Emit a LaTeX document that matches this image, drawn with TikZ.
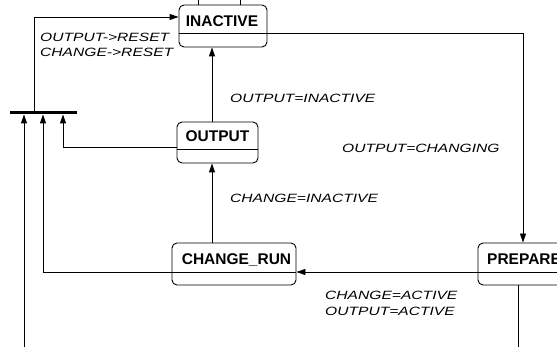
\documentclass[tikz,border=0pt]{standalone}
\usepackage{fontspec}
\setmainfont{Liberation Sans}
\newfontfamily\lblfont{Liberation Sans}[FakeStretch=1.3]
\usetikzlibrary{arrows.meta}

\tikzset{
  x=1pt, y=-1pt,
  statebox/.style={draw, line width=0.9pt, rounded corners=5pt, inner sep=0pt},
  statename/.style={font=\fontsize{15.5}{18}\selectfont\bfseries, inner sep=0pt, anchor=base},
  guard/.style={font=\lblfont\itshape\fontsize{12}{15}\selectfont, inner sep=0pt, anchor=base west},
  wire/.style={draw, line width=0.9pt},
  arr/.style={wire, -{Triangle[length=9pt,width=6pt]}},
}

\begin{document}
\begin{tikzpicture}
\useasboundingbox (0,0) rectangle (557,347);
\clip (0,0) rectangle (557,347);

% states
\node[statebox, minimum width=88pt, minimum height=42pt] (inactive) at (223,26) {};
\node[statename] (inactivename) at (222,26.5) {INACTIVE};
\draw[wire] (inactive.west |- 0,33) -- (inactive.east |- 0,33);

\node[statebox, minimum width=81pt, minimum height=41pt] (output) at (217.5,142.5) {};
\node[statename] (outputname) at (217.5,142) {OUTPUT};
\draw[wire] (output.west |- 0,149) -- (output.east |- 0,149);

\node[statebox, minimum width=124pt, minimum height=42pt] (changerun) at (234,264) {};
\node[statename] (changerunname) at (236.5,265) {CHANGE\_RUN};
\draw[wire] (changerun.west |- 0,272) -- (changerun.east |- 0,272);

\node[statebox, minimum width=97pt, minimum height=42pt] (prepare) at (526.5,264) {};
\node[statename, anchor=base west] (preparename) at (487,265) {PREPARE};
\draw[wire] (prepare.west |- 0,272) -- (prepare.east |- 0,272);

% join bar
\node[fill, minimum width=67pt, minimum height=3.5pt, inner sep=0pt] (bar) at (43.5,112.5) {};

% free ends
\coordinate (leftin) at (24,347);
\coordinate (prepareout) at (518,347);
\coordinate (topa) at (198,0);
\coordinate (topb) at (240,0);

% transitions
\draw[arr] (inactive.east |- 0,33) -| (prepare.north -| 523,0);
\draw[arr] (prepare.west |- 0,272) -- (changerun.east |- 0,272);
\draw[wire] (prepare.south -| 518,0) -- (prepareout);
\draw[arr] (changerun.north -| 212,0) -- (output.south -| 212,0);
\draw[arr] (output.north -| 212,0) -- (inactive.south -| 212,0);
\draw[arr] (output.west |- 0,147) -| (bar.south -| 63,0);
\draw[arr] (changerun.west |- 0,272) -| (bar.south -| 43,0);
\draw[arr] (leftin) -- (bar.south -| 24,0);
\draw[arr] (bar.north -| 34,0) |- (inactive.west |- 0,17);
\draw[wire] (topa) -- (inactive.north -| topa);
\draw[wire] (topb) -- (inactive.north -| topb);

% guards
\node[guard] (g1) at (40,42) {OUTPUT->RESET};
\node[guard] (g2) at (40,57) {CHANGE->RESET};
\node[guard] (g3) at (230,103) {OUTPUT=INACTIVE};
\node[guard] (g4) at (342,153) {OUTPUT=CHANGING};
\node[guard] (g5) at (230,203) {CHANGE=INACTIVE};
\node[guard] (g6) at (325,300) {CHANGE=ACTIVE};
\node[guard] (g7) at (325,316) {OUTPUT=ACTIVE};
\end{tikzpicture}
\end{document}
